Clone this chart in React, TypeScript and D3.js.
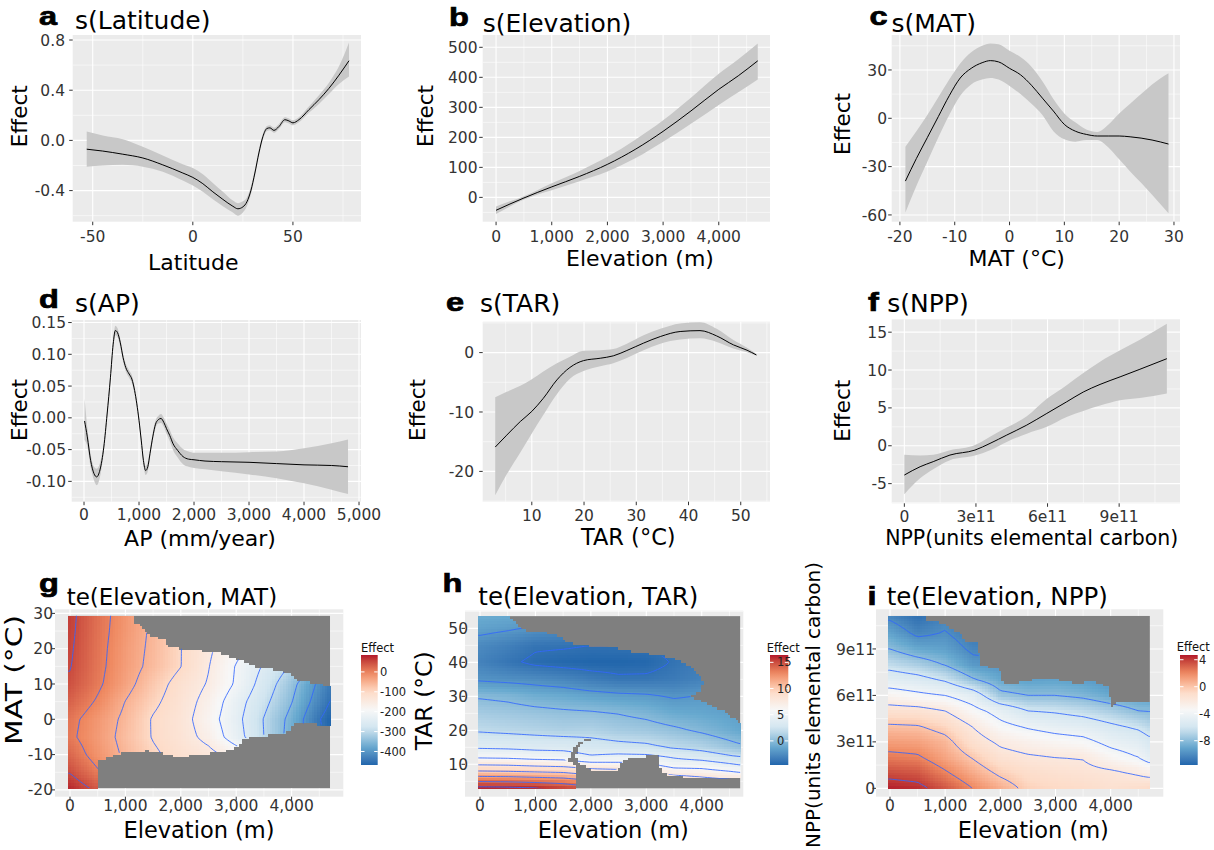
import React from "react";
import * as d3 from "d3";

const W = 1214;
const H = 850;
const SANS = "'DejaVu Sans', Verdana, sans-serif";
const LETTER_FONT = "'Liberation Sans', Arial, sans-serif";
const PANEL_BG = "#EBEBEB";
const BAND = "#C8C8C8";
const MASK = "#7F7F7F";
const CONTOUR = "#3366FF";
const TICK_TXT = "#333333";
const RDBU = ["#B2182B", "#EF8A62", "#FDDBC7", "#F7F7F7", "#D1E5F0", "#67A9CF", "#2166AC"];

// ---------- a: s(Latitude)
const latitude = [-53, -45, -35, -25, -15, -5, 0, 5, 10, 15, 20, 22.5, 25, 27, 29, 31, 33, 35, 37, 38.5, 40.5, 43, 46, 48, 50, 53, 58, 63, 68, 73, 78];
const latitudeFit = [-0.07, -0.085, -0.11, -0.14, -0.195, -0.26, -0.295, -0.345, -0.41, -0.47, -0.525, -0.545, -0.53, -0.49, -0.4, -0.26, -0.1, 0.03, 0.095, 0.1, 0.08, 0.11, 0.165, 0.155, 0.14, 0.165, 0.245, 0.325, 0.415, 0.52, 0.635];
const latitudeLower = [-0.21, -0.2, -0.195, -0.21, -0.25, -0.32, -0.36, -0.41, -0.47, -0.525, -0.575, -0.6, -0.575, -0.525, -0.43, -0.285, -0.125, 0.01, 0.075, 0.08, 0.06, 0.09, 0.145, 0.135, 0.12, 0.145, 0.22, 0.29, 0.37, 0.45, 0.51];
const latitudeUpper = [0.07, 0.04, 0.01, -0.05, -0.12, -0.19, -0.22, -0.27, -0.34, -0.41, -0.48, -0.5, -0.485, -0.455, -0.37, -0.235, -0.075, 0.05, 0.115, 0.12, 0.1, 0.13, 0.185, 0.175, 0.16, 0.185, 0.27, 0.36, 0.46, 0.59, 0.78];
const latitudeTicks = [-50, 0, 50];
const latitudeEffectTicks = [-0.4, 0, 0.4, 0.8];

// ---------- b: s(Elevation)
const elevation = [0, 250, 500, 750, 1000, 1500, 2000, 2500, 3000, 3500, 4000, 4350, 4700];
const elevationFit = [-43, -22, -2, 17, 35, 70, 110, 160, 220, 288, 360, 405, 455];
const elevationLower = [-55, -30, -7, 10, 24, 54, 86, 130, 185, 245, 308, 350, 393];
const elevationUpper = [-30, -13, 4, 25, 47, 88, 135, 192, 257, 332, 412, 460, 513];
const elevationTicks = [0, 1000, 2000, 3000, 4000];
const elevationEffectTicks = [0, 100, 200, 300, 400, 500];

// ---------- c: s(MAT)
const mat = [-19, -17, -15, -13, -11, -9, -7, -5, -3.5, -2, 0, 2, 4, 6, 8, 10, 12, 14, 16, 18, 20, 22, 24, 26, 29];
const matFit = [-39, -25, -12, 1, 14, 25, 31, 34.5, 35.8, 35, 31, 27, 20.5, 12.5, 4.5, -3.8, -8, -10, -11, -11, -11, -11.5, -12.3, -13.5, -16];
const matLower = [-58.5, -42, -27, -12, 2, 14, 21, 24, 25, 24, 20, 15, 9, 2, -8, -13, -14.5, -13.5, -13.5, -18, -25.5, -33, -40, -47.5, -59];
const matUpper = [-17.6, -8, 2, 13, 24, 34, 41, 45, 46.5, 46, 42, 38, 32, 23, 12, 3, -2.5, -7, -8.5, -4, 3, 9, 15, 21, 28];
const matTicks = [-20, -10, 0, 10, 20, 30];
const matEffectTicks = [-60, -30, 0, 30];

// ---------- d: s(AP)
const ap = [10, 60, 120, 180, 230, 290, 360, 420, 480, 530, 570, 610, 660, 710, 760, 820, 870, 920, 960, 1000, 1040, 1080, 1120, 1160, 1200, 1250, 1300, 1350, 1400, 1450, 1500, 1560, 1620, 1700, 1800, 1900, 2000, 2200, 2500, 3000, 3500, 4000, 4500, 4800];
const apFit = [-0.005, -0.03, -0.067, -0.0875, -0.093, -0.082, -0.046, 0.006, 0.063, 0.116, 0.1375, 0.134, 0.118, 0.095, 0.079, 0.069, 0.061, 0.043, 0.022, -0.004, -0.035, -0.067, -0.083, -0.077, -0.056, -0.03, -0.01, -0.003, -0.001, -0.007, -0.017, -0.028, -0.041, -0.051, -0.061, -0.065, -0.066, -0.068, -0.069, -0.07, -0.072, -0.074, -0.075, -0.077];
const apLower = [-0.035, -0.045, -0.077, -0.098, -0.106, -0.093, -0.053, 0.0, 0.057, 0.109, 0.13, 0.127, 0.112, 0.089, 0.073, 0.063, 0.055, 0.037, 0.016, -0.01, -0.041, -0.073, -0.09, -0.084, -0.062, -0.036, -0.016, -0.009, -0.008, -0.014, -0.025, -0.037, -0.051, -0.062, -0.073, -0.077, -0.079, -0.081, -0.084, -0.089, -0.095, -0.103, -0.113, -0.12];
const apUpper = [0.03, -0.015, -0.057, -0.077, -0.08, -0.071, -0.039, 0.012, 0.069, 0.123, 0.145, 0.141, 0.124, 0.101, 0.085, 0.075, 0.067, 0.049, 0.028, 0.002, -0.029, -0.061, -0.076, -0.07, -0.05, -0.024, -0.004, 0.003, 0.006, 0.0, -0.009, -0.019, -0.031, -0.04, -0.049, -0.053, -0.055, -0.055, -0.055, -0.054, -0.053, -0.048, -0.04, -0.034];
const apTicks = [0, 1000, 2000, 3000, 4000, 5000];
const apEffectTicks = [-0.1, -0.05, 0, 0.05, 0.1, 0.15];

// ---------- e: s(TAR)
const tar = [3, 5.2, 7.8, 10, 12.2, 14.8, 17.3, 19.9, 23.1, 25.6, 28.2, 31.4, 34.6, 38.4, 42.2, 45.4, 48.6, 51.2, 53];
const tarFit = [-15.9, -13.9, -11.6, -9.9, -7.7, -4.6, -2.5, -1.35, -0.95, -0.55, 0.35, 1.6, 2.7, 3.55, 3.7, 2.8, 1.3, 0.4, -0.4];
const tarLower = [-24, -20.5, -16.8, -13.6, -10.5, -7, -4.4, -3.1, -2.3, -1.8, -0.9, 0.4, 1.5, 2.2, 2.4, 1.8, 0.7, 0.05, -0.55];
const tarUpper = [-7.5, -6.6, -5.6, -4.5, -3.2, -1.8, -0.7, 0.3, 0.4, 0.6, 1.5, 2.9, 4.0, 4.9, 5.1, 4.0, 2.1, 0.8, -0.25];
const tarTicks = [10, 20, 30, 40, 50];
const tarEffectTicks = [-20, -10, 0];

// ---------- f: s(NPP), NPP in units of 1e11
const npp = [0, 0.66, 1.21, 1.91, 2.96, 3.59, 4.29, 5.13, 5.97, 6.8, 7.5, 8.2, 9.04, 9.87, 11.0];
const nppFit = [-3.87, -2.77, -2.1, -1.23, -0.57, 0.31, 1.41, 2.73, 4.27, 5.8, 7.1, 8.1, 9.1, 10.1, 11.5];
const nppLower = [-6.4, -4.3, -3.1, -1.9, -1.3, -0.6, 0.5, 1.6, 2.5, 3.8, 4.6, 5.3, 6.0, 6.3, 6.9];
const nppUpper = [-1.2, -1.3, -1.2, -0.6, 0.1, 1.2, 2.4, 3.9, 6.2, 8.0, 9.6, 11.1, 12.6, 14.0, 16.1];
const nppTicks = [0, 3, 6, 9];
const nppTickLabels = ["0", "3e11", "6e11", "9e11"];
const nppEffectTicks = [-5, 0, 5, 10, 15];

// ---------- tensor surfaces: columns are elevation (m)
const surfaceElevation = [0, 500, 1000, 1500, 2000, 2500, 3000, 3500, 4000, 4500, 4700];

// g: te(Elevation, MAT), rows are MAT (°C)
const gMat = [-20, -15, -10, -5, 0, 5, 10, 15, 20, 25, 30];
const gEffect = [
  [80, 42, -15, -60, -100, -120, -150, -205, -270, -340, -370],
  [48, 5, -38, -75, -108, -128, -160, -215, -280, -350, -380],
  [25, -18, -58, -92, -118, -135, -170, -225, -290, -360, -390],
  [8, -25, -65, -103, -128, -165, -228, -300, -370, -440, -465],
  [12, -22, -60, -104, -130, -178, -235, -302, -365, -448, -470],
  [30, -5, -51, -90, -125, -168, -228, -287, -348, -425, -452],
  [45, 8, -34, -78, -118, -154, -206, -271, -335, -410, -440],
  [52, 12, -28, -63, -99, -148, -203, -255, -305, -360, -385],
  [55, 14, -26, -60, -99, -142, -185, -230, -275, -320, -340],
  [58, 16, -22, -58, -97, -140, -185, -230, -278, -325, -345],
  [60, 18, -20, -60, -100, -140, -185, -230, -280, -330, -350],
];
// region with data support, [elevation, MAT]
const gSupport = [
  [-31, -19.5], [505, -19.5], [510, -11.5], [896, -9.5], [1318, -9.2], [1378, -8.5], [1440, -9.0], [1679, -9.6],
  [2070, -11.0], [2160, -10.1], [2708, -9.2], [3009, -7.8], [3129, -5.4], [3490, -4.4], [3851, -4.0], [3971, -3.0],
  [4062, -0.7], [4212, -1.2], [4700, -1.6], [4700, 9.2], [4392, 10.2], [4091, 11.1], [3971, 12.6], [3851, 13.5],
  [3550, 14.4], [3309, 14.9], [3069, 16.8], [2888, 17.7], [2708, 18.7], [2467, 19.2], [1925, 20.1], [1745, 21.0],
  [1685, 22.5], [1414, 23.9], [1323, 25.8], [1173, 27.2], [1143, 29.3], [-31, 29.3],
];
const gLevels = [-450, -400, -350, -300, -250, -200, -150, -100, -50, 0, 50];
const gLegendTicks = [0, -100, -200, -300, -400];
const gMatTicks = [-20, -10, 0, 10, 20, 30];

// h: te(Elevation, TAR), rows are TAR (°C)
const hTar = [3, 5, 7.5, 10, 12.5, 15, 20, 25, 30, 35, 40, 45, 50, 54];
const hEffect = [
  [16.5, 16.4, 16.3, 15.5, 14.5, 14.0, 13.0, 12.0, 11.0, 10.7, 10.5],
  [13.9, 13.8, 13.5, 13.2, 12.3, 12.0, 11.0, 10.0, 9.0, 8.5, 8.2],
  [10.6, 10.5, 10.3, 10.1, 9.3, 9.0, 8.5, 7.2, 7.0, 6.4, 6.1],
  [7.8, 7.7, 7.4, 7.2, 6.6, 6.5, 6.3, 5.1, 5.0, 4.2, 3.8],
  [5.4, 5.3, 5.0, 4.9, 4.1, 4.4, 4.3, 3.6, 2.9, 2.1, 1.8],
  [3.8, 3.7, 3.5, 3.4, 2.9, 2.6, 2.4, 1.8, 1.4, 0.6, 0.3],
  [1.8, 1.6, 1.4, 1.2, 1.3, 0.9, 0.7, 0.3, -0.25, -0.9, -1.2],
  [0.9, 0.7, 0.5, 0.3, 0.2, -0.05, -0.4, -1.0, -1.2, -1.5, -1.6],
  [-0.15, -0.35, -0.8, -1.0, -1.35, -1.6, -1.75, -2.15, -1.9, -2.0, -2.1],
  [-2.2, -2.4, -2.6, -2.9, -3.4, -3.75, -3.75, -3.5, -3.1, -3.0, -3.0],
  [-3.1, -3.75, -4.3, -4.5, -4.6, -4.6, -4.5, -3.9, -3.3, -3.2, -3.1],
  [-2.7, -3.2, -3.8, -3.85, -4.0, -3.95, -3.9, -3.6, -3.2, -3.1, -3.0],
  [-1.5, -1.8, -2.2, -2.5, -3.0, -3.2, -3.3, -3.3, -3.0, -2.9, -2.9],
  [-0.9, -1.0, -1.4, -1.6, -2.0, -2.4, -2.6, -2.8, -2.8, -2.8, -2.8],
];
const hSupport = [
  [-30, 2.94], [1735, 2.94], [1735, 8.8], [1673, 10.3], [1523, 11.3], [1612, 12.7], [1673, 14.6], [1793, 16.7],
  [1913, 17.8], [2004, 17.1], [1853, 16.4], [1763, 14.6], [1733, 12.7], [1763, 10.8], [1853, 9.8], [1973, 8.8],
  [2094, 8.3], [2455, 8.3], [2515, 9.8], [2635, 11.7], [2755, 12.2], [3207, 12.9], [3225, 9.8], [3297, 7.85],
  [3417, 6.9], [3658, 6.4], [4140, 5.9], [4440, 5.7], [4693, 5.9], [4693, 22], [4500, 24.3], [4380, 25.7],
  [4019, 28.2], [3778, 30.1], [3959, 31.6], [4019, 34], [3899, 37.4], [3658, 39.8], [3478, 41.3], [3177, 42.2],
  [2755, 43], [2335, 44.5], [1793, 44.9], [1522, 46.2], [1372, 48.4], [830, 49.1], [710, 50.5], [500, 53.6], [-30, 53.6],
];
const hLevels = [-4, -2, 0, 2, 4, 6, 8, 10, 12, 14, 16];
const hLegendTicks = [15, 10, 5, 0];
const hTarTicks = [10, 20, 30, 40, 50];

// i: te(Elevation, NPP), rows are NPP in units of 1e11
const iNpp = [0, 1, 2, 3, 4, 5, 6, 7, 8, 9, 10, 11.13];
const iEffect = [
  [4.6, 4.4, 3.4, 2.0, 0.8, -0.4, -0.7, -0.9, -1.3, -1.0, -0.8],
  [3.6, 3.4, 2.2, 0.9, -0.3, -1.0, -1.3, -1.5, -1.7, -2.2, -2.5],
  [2.4, 2.2, 1.1, -0.1, -1.4, -1.8, -2.0, -2.1, -3.2, -4.0, -4.8],
  [1.3, 1.2, 0.5, -1.2, -2.3, -2.8, -3.2, -3.5, -4.5, -5.0, -5.6],
  [0.2, 0.1, -0.6, -2.05, -3.5, -4.2, -4.7, -5.0, -5.7, -6.3, -6.8],
  [-1.3, -1.4, -2.0, -3.4, -4.7, -6.0, -6.2, -6.6, -7.2, -8.0, -8.05],
  [-3.1, -3.6, -4.0, -5.0, -7.6, -8.0, -8.0, -8.3, -8.9, -9.2, -9.3],
  [-5.0, -5.4, -6.2, -7.8, -8.9, -9.2, -9.1, -9.3, -9.8, -10.0, -10.0],
  [-6.6, -7.2, -8.1, -9.5, -9.8, -10.0, -9.9, -10.0, -10.3, -10.4, -10.5],
  [-8.0, -8.9, -9.2, -10.3, -10.4, -10.5, -10.4, -10.5, -10.7, -10.8, -10.9],
  [-9.1, -10.3, -9.9, -10.8, -10.8, -10.9, -10.8, -10.9, -11.0, -11.1, -11.2],
  [-10.3, -11.2, -10.4, -11.2, -11.2, -11.3, -11.2, -11.3, -11.3, -11.4, -11.5],
];
const iSupport = [
  [-31, 0], [4710, 0], [4710, 5.48], [4469, 5.59], [4076, 5.48], [4016, 5.26], [3986, 5.59], [3955, 6.45],
  [3804, 6.77], [3623, 6.88], [3382, 6.77], [3200, 6.88], [2959, 7.09], [2597, 7.03], [2083, 6.66], [2023, 6.99],
  [1993, 7.63], [1630, 7.95], [1600, 8.82], [1570, 9.35], [1298, 9.57], [1268, 10.0], [1057, 10.32], [966, 10.64],
  [634, 10.86], [604, 11.13], [-31, 11.13],
];
const iLevels = [-10, -8, -6, -4, -2, 0, 2, 4];
const iLegendTicks = [4, 0, -4, -8];
const iNppTicks = [0, 3, 6, 9];
const iNppTickLabels = ["0", "3e11", "6e11", "9e11"];

const comma = d3.format(",");

// ---------------------------------------------------------------
function Frame({ s, xs, ys, children }: any) {
  const [l, t, r, b] = s.rect;
  const inX = (v: number) => v >= s.xDomain[0] && v <= s.xDomain[1];
  const inY = (v: number) => v >= s.yDomain[0] && v <= s.yDomain[1];
  const tickFont = s.tickSize || 15.5;
  return (
    <g>
      <rect x={l} y={t} width={r - l} height={b - t} fill={PANEL_BG} />
      {s.xMinor.filter(inX).map((v: number) => (
        <line key={"xm" + v} x1={xs(v)} x2={xs(v)} y1={t} y2={b} stroke="#fff" strokeWidth={0.55} />
      ))}
      {s.yMinor.filter(inY).map((v: number) => (
        <line key={"ym" + v} x1={l} x2={r} y1={ys(v)} y2={ys(v)} stroke="#fff" strokeWidth={0.55} />
      ))}
      {s.xTicks.map((v: number) => (
        <line key={"xM" + v} x1={xs(v)} x2={xs(v)} y1={t} y2={b} stroke="#fff" strokeWidth={1.1} />
      ))}
      {s.yTicks.map((v: number) => (
        <line key={"yM" + v} x1={l} x2={r} y1={ys(v)} y2={ys(v)} stroke="#fff" strokeWidth={1.1} />
      ))}
      {children}
      {s.xTicks.map((v: number) => (
        <line key={"xt" + v} x1={xs(v)} x2={xs(v)} y1={b} y2={b + 3.5} stroke={TICK_TXT} strokeWidth={1} />
      ))}
      {s.yTicks.map((v: number) => (
        <line key={"yt" + v} x1={l - 3.5} x2={l} y1={ys(v)} y2={ys(v)} stroke={TICK_TXT} strokeWidth={1} />
      ))}
      {s.xTicks.map((v: number, k: number) => (
        <text key={"xl" + v} x={xs(v)} y={s.xLabelY} textAnchor="middle" fontSize={tickFont} fill={TICK_TXT}>
          {s.xFmt(v, k)}
        </text>
      ))}
      {s.yTicks.map((v: number, k: number) => (
        <text key={"yl" + v} x={s.yLabelX} y={ys(v)} dy="0.36em" textAnchor="end" fontSize={tickFont} fill={TICK_TXT}>
          {s.yFmt(v, k)}
        </text>
      ))}
      <text
        transform={`translate(${s.letterPos[0]},${s.letterPos[1]}) scale(1.3,1)`}
        fontFamily={LETTER_FONT}
        fontWeight={700}
        fontSize={25}
        fill="#000"
        stroke="#000"
        strokeWidth={0.7}
      >
        {s.letter}
      </text>
      <text x={s.titlePos[0]} y={s.titlePos[1]} fontSize={s.titleSize || 25} fill="#000">
        {s.title}
      </text>
      <text x={s.xTitlePos[0]} y={s.xTitlePos[1]} textAnchor="middle" fontSize={s.xTitleSize || 22} fill="#000">
        {s.xTitle}
      </text>
      <text
        transform={`translate(${s.yTitlePos[0]},${s.yTitlePos[1]}) rotate(-90)`}
        textAnchor="middle"
        fontSize={s.yTitleSize || 21.5}
        fill="#000"
        {...(s.yTitleLength ? { textLength: s.yTitleLength, lengthAdjust: "spacingAndGlyphs" } : {})}
      >
        {s.yTitle}
      </text>
    </g>
  );
}

function scalesFor(s: any) {
  const xs = d3.scaleLinear().domain(s.xDomain).range([s.rect[0], s.rect[2]]);
  const ys = d3.scaleLinear().domain(s.yDomain).range([s.rect[3], s.rect[1]]);
  return { xs, ys };
}

function LinePanel({ s }: any) {
  const { xs, ys } = scalesFor(s);
  const idx = d3.range(s.x.length);
  const band = d3
    .area<number>()
    .x((i) => xs(s.x[i]))
    .y0((i) => ys(s.lower[i]))
    .y1((i) => ys(s.upper[i]))
    .curve(d3.curveMonotoneX);
  const line = d3
    .line<number>()
    .x((i) => xs(s.x[i]))
    .y((i) => ys(s.fit[i]))
    .curve(d3.curveMonotoneX);
  return (
    <Frame s={s} xs={xs} ys={ys}>
      <path d={band(idx) || ""} fill={BAND} />
      <path d={line(idx) || ""} fill="none" stroke="#000" strokeWidth={1} />
    </Frame>
  );
}

function bilinear(cols: number[], rows: number[], grid: number[][]) {
  const nc = cols.length;
  const nr = rows.length;
  return (x: number, y: number) => {
    const cx = Math.max(cols[0], Math.min(cols[nc - 1], x));
    const cy = Math.max(rows[0], Math.min(rows[nr - 1], y));
    const i = Math.min(nc - 2, Math.max(0, d3.bisectRight(cols, cx) - 1));
    const j = Math.min(nr - 2, Math.max(0, d3.bisectRight(rows, cy) - 1));
    const tx = (cx - cols[i]) / (cols[i + 1] - cols[i]);
    const ty = (cy - rows[j]) / (rows[j + 1] - rows[j]);
    const a = grid[j][i] * (1 - tx) + grid[j][i + 1] * tx;
    const b = grid[j + 1][i] * (1 - tx) + grid[j + 1][i + 1] * tx;
    return a * (1 - ty) + b * ty;
  };
}

function HeatPanel({ s }: any) {
  const { xs, ys } = scalesFor(s);
  const sample = bilinear(surfaceElevation, s.rows, s.grid);
  const [cMax, cMin] = s.colorRange;
  const color = d3
    .scaleLinear<string>()
    .domain(RDBU.map((_, k) => cMax - (k * (cMax - cMin)) / (RDBU.length - 1)))
    .range(RDBU)
    .interpolate(d3.interpolateLab)
    .clamp(true);

  const rx0 = xs(s.rasterX[0]);
  const rx1 = xs(s.rasterX[1]);
  const ry0 = ys(s.rasterY[1]);
  const ry1 = ys(s.rasterY[0]);
  const nx = 100;
  const ny = 66;
  const cw = (rx1 - rx0) / nx;
  const ch = (ry1 - ry0) / ny;
  const poly = s.support.map(([a, b]: number[]) => [xs(a), ys(b)] as [number, number]);

  const cells: any[] = [];
  for (let j = 0; j < ny; j++) {
    for (let i = 0; i < nx; i++) {
      const cx = rx0 + (i + 0.5) * cw;
      const cy = ry0 + (j + 0.5) * ch;
      if (!d3.polygonContains(poly, [cx, cy])) continue;
      const v = sample(xs.invert(cx), ys.invert(cy));
      cells.push(
        <rect key={i + "_" + j} x={rx0 + i * cw} y={ry0 + j * ch} width={cw + 0.6} height={ch + 0.6} fill={color(v)} />
      );
    }
  }

  // contour field: raster grid plus two extra samples and a low pad on every side
  const NX = nx + 6;
  const NY = ny + 6;
  const field = new Array(NX * NY);
  for (let k = 0; k < NY; k++) {
    for (let m = 0; m < NX; m++) {
      if (k === 0 || m === 0 || k === NY - 1 || m === NX - 1) {
        field[k * NX + m] = -1e9;
      } else {
        const px = rx0 + (m - 2.5) * cw;
        const py = ry0 + (k - 2.5) * ch;
        field[k * NX + m] = sample(xs.invert(px), ys.invert(py));
      }
    }
  }
  const contours = d3.contours().size([NX, NY]).thresholds(s.levels)(field);
  const toPx = d3.geoTransform({
    point: function (this: any, x: number, y: number) {
      this.stream.point(rx0 + (x - 3) * cw, ry0 + (y - 3) * ch);
    },
  });
  const path = d3.geoPath(toPx);
  const clipId = "support-" + s.letter;
  const gradId = "legend-" + s.letter;
  const [bl, bt, br, bb] = s.legendBar;
  const lScale = d3.scaleLinear().domain([cMax, cMin]).range([bt, bb]);
  const stops = d3.range(21).map((k) => k / 20);

  return (
    <g>
      <defs>
        <clipPath id={clipId}>
          <polygon points={poly.map((p: number[]) => p.join(",")).join(" ")} />
        </clipPath>
        <linearGradient id={gradId} x1="0" y1="0" x2="0" y2="1">
          {stops.map((f) => (
            <stop key={f} offset={f} stopColor={color(cMax - f * (cMax - cMin))} />
          ))}
        </linearGradient>
      </defs>
      <Frame s={s} xs={xs} ys={ys}>
        <rect x={rx0} y={ry0} width={rx1 - rx0} height={ry1 - ry0} fill={MASK} />
        <g shapeRendering="crispEdges">{cells}</g>
        <g clipPath={`url(#${clipId})`}>
          {contours.map((c: any) => (
            <path key={c.value} d={path(c) || ""} fill="none" stroke={CONTOUR} strokeWidth={0.9} strokeOpacity={0.95} />
          ))}
        </g>
      </Frame>
      <text x={s.legendTitlePos[0]} y={s.legendTitlePos[1]} fontSize={11.5} fill="#111">
        Effect
      </text>
      <rect x={bl} y={bt} width={br - bl} height={bb - bt} fill={`url(#${gradId})`} />
      {s.legendTicks.map((v: number) => (
        <g key={"lt" + v}>
          <line x1={bl} x2={bl + 3.5} y1={lScale(v)} y2={lScale(v)} stroke="#fff" strokeWidth={1} />
          <line x1={br - 3.5} x2={br} y1={lScale(v)} y2={lScale(v)} stroke="#fff" strokeWidth={1} />
          <text x={s.legendLabelX} y={lScale(v)} dy="0.36em" fontSize={11.5} fill="#222">
            {String(v)}
          </text>
        </g>
      ))}
    </g>
  );
}

// ---------------------------------------------------------------
const linePanels = [
  {
    letter: "a", title: "s(Latitude)", rect: [72.7, 35, 361, 221.7], xDomain: [-60, 84], yDomain: [-0.648, 0.84],
    xTicks: latitudeTicks, xMinor: [-25, 25, 75], yTicks: latitudeEffectTicks, yMinor: [-0.6, -0.2, 0.2, 0.6],
    xFmt: (v: number) => String(v), yFmt: (v: number) => v.toFixed(1),
    x: latitude, fit: latitudeFit, lower: latitudeLower, upper: latitudeUpper,
    letterPos: [39, 25], titlePos: [75, 29], xTitle: "Latitude", xTitlePos: [193.3, 269.5],
    yTitle: "Effect", yTitlePos: [26.7, 116.3], xLabelY: 241.5, yLabelX: 65,
  },
  {
    letter: "b", title: "s(Elevation)", rect: [482.7, 35, 770, 221.7], xDomain: [-240, 4920], yDomain: [-81, 541],
    xTicks: elevationTicks, xMinor: [500, 1500, 2500, 3500, 4500], yTicks: elevationEffectTicks,
    yMinor: [-50, 50, 150, 250, 350, 450], xFmt: (v: number) => comma(v), yFmt: (v: number) => String(v),
    x: elevation, fit: elevationFit, lower: elevationLower, upper: elevationUpper,
    letterPos: [449, 26], titlePos: [482.7, 31.5], xTitle: "Elevation (m)", xTitlePos: [640, 266],
    yTitle: "Effect", yTitlePos: [433.3, 116], xLabelY: 241.5, yLabelX: 477.5,
  },
  {
    letter: "c", title: "s(MAT)", rect: [891.7, 35, 1180, 221.7], xDomain: [-21.5, 31.1], yDomain: [-64.2, 51.7],
    xTicks: matTicks, xMinor: [-15, -5, 5, 15, 25], yTicks: matEffectTicks, yMinor: [-45, -15, 15, 45],
    xFmt: (v: number) => String(v), yFmt: (v: number) => String(v),
    x: mat, fit: matFit, lower: matLower, upper: matUpper,
    letterPos: [869.5, 25], titlePos: [891.5, 31.5], xTitle: "MAT (°C)", xTitlePos: [1016.7, 266],
    yTitle: "Effect", yTitlePos: [850, 124], xLabelY: 241.5, yLabelX: 887,
  },
  {
    letter: "d", title: "s(AP)", rect: [71.7, 320, 361, 501.7], xDomain: [-224, 5036], yDomain: [-0.132, 0.154],
    xTicks: apTicks, xMinor: [500, 1500, 2500, 3500, 4500], yTicks: apEffectTicks,
    yMinor: [-0.125, -0.075, -0.025, 0.025, 0.075, 0.125], xFmt: (v: number) => comma(v), yFmt: (v: number) => v.toFixed(2),
    x: ap, fit: apFit, lower: apLower, upper: apUpper,
    letterPos: [39, 308.3], titlePos: [75, 311.5], xTitle: "AP (mm/year)", xTitlePos: [200, 546],
    yTitle: "Effect", yTitlePos: [26.7, 410], xLabelY: 520, yLabelX: 66,
  },
  {
    letter: "e", title: "s(TAR)", rect: [482.7, 321.7, 770, 501.7], xDomain: [0.6, 55.6], yDomain: [-25.1, 5.2],
    xTicks: tarTicks, xMinor: [5, 15, 25, 35, 45, 55], yTicks: tarEffectTicks, yMinor: [-25, -15, -5, 5],
    xFmt: (v: number) => String(v), yFmt: (v: number) => String(v),
    x: tar, fit: tarFit, lower: tarLower, upper: tarUpper,
    letterPos: [446, 311], titlePos: [480, 311.5], xTitle: "TAR (°C)", xTitlePos: [628.3, 545], xTitleSize: 22.5,
    yTitle: "Effect", yTitlePos: [425, 410], xLabelY: 521, yLabelX: 474,
  },
  {
    letter: "f", title: "s(NPP)", rect: [891.7, 319.3, 1180, 503.3], xDomain: [-0.53, 11.55], yDomain: [-7.6, 16.7],
    xTicks: nppTicks, xMinor: [1.5, 4.5, 7.5, 10.5], yTicks: nppEffectTicks, yMinor: [-7.5, -2.5, 2.5, 7.5, 12.5],
    xFmt: (_v: number, k: number) => nppTickLabels[k], yFmt: (v: number) => String(v),
    x: npp, fit: nppFit, lower: nppLower, upper: nppUpper,
    letterPos: [868, 311], titlePos: [887.3, 311.5], xTitle: "NPP(units elemental carbon)", xTitleSize: 20.5,
    xTitlePos: [1031.7, 545], yTitle: "Effect", yTitlePos: [850, 410.8], xLabelY: 522, yLabelX: 887,
  },
];

const heatPanels = [
  {
    letter: "g", title: "te(Elevation, MAT)", titleSize: 23, rect: [55, 609.3, 343.3, 796.7],
    xDomain: [-270.8, 4933], yDomain: [-21.93, 31.16], xTicks: elevationTicks, xMinor: [500, 1500, 2500, 3500, 4500],
    yTicks: gMatTicks, yMinor: [-15, -5, 5, 15, 25], xFmt: (v: number) => comma(v), yFmt: (v: number) => String(v),
    tickSize: 15.5, rows: gMat, grid: gEffect, support: gSupport, levels: gLevels,
    rasterX: [-31, 4693], rasterY: [-19.5, 29.3], colorRange: [85, -468],
    legendBar: [361, 655, 377.7, 765], legendLabelX: 380, legendTitlePos: [361, 652], legendTicks: gLegendTicks,
    letterPos: [39, 592], titlePos: [66.7, 605], xTitle: "Elevation (m)", xTitleSize: 22.5, xTitlePos: [199, 837.5],
    yTitle: "MAT (°C)", yTitleSize: 23, yTitleLength: 130, yTitlePos: [21.7, 680], xLabelY: 811, yLabelX: 53,
  },
  {
    letter: "h", title: "te(Elevation, TAR)", titleSize: 24.5, rect: [465, 610.7, 743.3, 796.7],
    xDomain: [-270.6, 4750], yDomain: [0.47, 55.2], xTicks: elevationTicks, xMinor: [500, 1500, 2500, 3500, 4500],
    yTicks: hTarTicks, yMinor: [5, 15, 25, 35, 45, 55], xFmt: (v: number) => comma(v), yFmt: (v: number) => String(v),
    tickSize: 15.5, rows: hTar, grid: hEffect, support: hSupport, levels: hLevels,
    rasterX: [-30, 4693], rasterY: [2.94, 53.6], colorRange: [16.4, -4.6],
    legendBar: [770, 655, 788.3, 765], legendLabelX: 777, legendTitlePos: [766.7, 652], legendTicks: hLegendTicks,
    letterPos: [442.5, 591.7], titlePos: [478.3, 605], xTitle: "Elevation (m)", xTitleSize: 22.5, xTitlePos: [613.3, 837.5],
    yTitle: "TAR (°C)", yTitleSize: 23.5, yTitlePos: [431.7, 700.8], xLabelY: 811, yLabelX: 468,
  },
  {
    letter: "i", title: "te(Elevation, NPP)", titleSize: 24.5, rect: [876, 609.3, 1163.3, 796.7],
    xDomain: [-253.8, 4954], yDomain: [-0.54, 11.56], xTicks: elevationTicks, xMinor: [500, 1500, 2500, 3500, 4500],
    yTicks: iNppTicks, yMinor: [1.5, 4.5, 7.5, 10.5], xFmt: (v: number) => comma(v),
    yFmt: (_v: number, k: number) => iNppTickLabels[k],
    tickSize: 15.5, rows: iNpp, grid: iEffect, support: iSupport, levels: iLevels,
    rasterX: [-31, 4710], rasterY: [0, 11.13], colorRange: [4.7, -11.6],
    legendBar: [1180, 655, 1197.7, 765], legendLabelX: 1199, legendTitlePos: [1176.7, 651], legendTicks: iLegendTicks,
    letterPos: [867.5, 605], titlePos: [886.7, 605], xTitle: "Elevation (m)", xTitleSize: 22.5, xTitlePos: [1033.3, 837.5],
    yTitle: "NPP(units elemental carbon)", yTitleSize: 20, yTitlePos: [820, 705], xLabelY: 811, yLabelX: 875,
  },
];

export default function App() {
  return (
    <svg
      width={W}
      height={H}
      viewBox={`0 0 ${W} ${H}`}
      fontFamily={SANS}
      style={{ position: "absolute", left: 0, top: 0, display: "block" }}
    >
      <rect width={W} height={H} fill="#fff" />
      {linePanels.map((p) => (
        <LinePanel key={p.letter} s={p} />
      ))}
      {heatPanels.map((p) => (
        <HeatPanel key={p.letter} s={p} />
      ))}
    </svg>
  );
}
